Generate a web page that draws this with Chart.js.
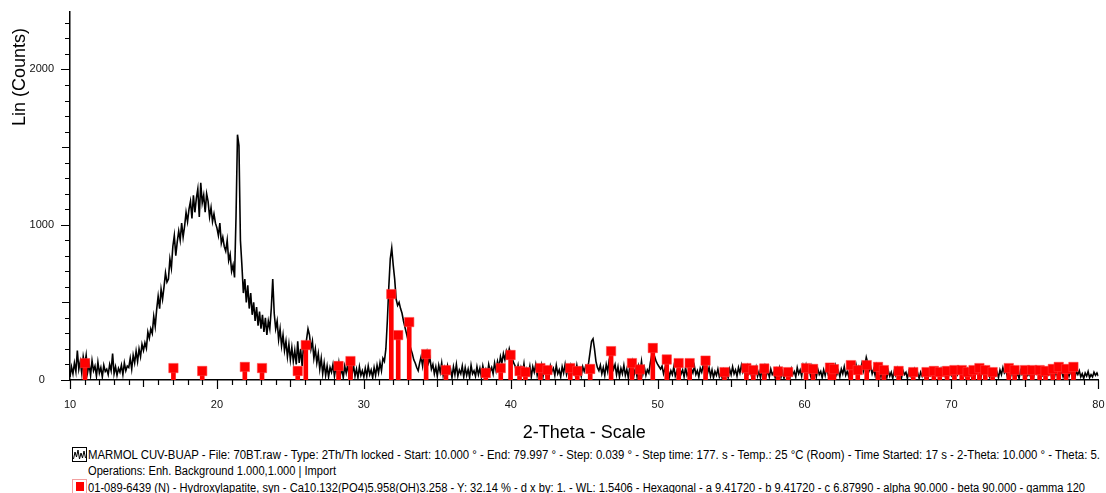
<!DOCTYPE html>
<html>
<head>
<meta charset="utf-8">
<script src="https://cdn.jsdelivr.net/npm/chart.js@4.4.1/dist/chart.umd.min.js"></script>
<style>
  html, body { margin: 0; padding: 0; background: #fff; }
  #wrap { position: relative; width: 1106px; height: 493px; overflow: hidden;
          font-family: "Liberation Sans", Arial, sans-serif; color: #000; }
  #xrd { position: absolute; left: 0; top: 0; }
  .leg { position: absolute; left: 88px; white-space: nowrap; font-size: 12px;
         line-height: 14px; transform-origin: 0 50%; }
  .icon { position: absolute; left: 72px; width: 15px; height: 15px; box-sizing: border-box; }
</style>
</head>
<body>
<div id="wrap">
  <canvas id="xrd" width="1106" height="447"></canvas>

  <div class="icon" style="top:447px;border:1px solid #000;">
    <svg width="13" height="13" viewBox="0 0 13 13" style="position:absolute;left:0;top:0">
      <polyline points="0.5,11 2,4 3.5,9 5,2 6.5,11 8,5 9.5,10 11,3 12.5,10" fill="none" stroke="#000" stroke-width="1"/>
    </svg>
  </div>
  <div class="leg" id="leg1" style="top:448px">MARMOL CUV-BUAP - File: 70BT.raw - Type: 2Th/Th locked - Start: 10.000 ° - End: 79.997 ° - Step: 0.039 ° - Step time: 177. s - Temp.: 25 °C (Room) - Time Started: 17 s - 2-Theta: 10.000 ° - Theta: 5.</div>
  <div class="leg" id="leg2" style="top:464px">Operations: Enh. Background 1.000,1.000 | Import</div>
  <div class="icon" style="top:479px;border:1px solid #f2a0a0;">
    <div style="position:absolute;left:3px;top:2px;width:8px;height:9px;background:#ff0000"></div>
  </div>
  <div class="leg" id="leg3" style="top:481px">01-089-6439 (N) - Hydroxylapatite, syn - Ca10.132(PO4)5.958(OH)3.258 - Y: 32.14 % - d x by: 1. - WL: 1.5406 - Hexagonal - a 9.41720 - b 9.41720 - c 6.87990 - alpha 90.000 - beta 90.000 - gamma 120</div>
</div>

<script>
// Scan settings (2-Theta, degrees)
const SCAN_START = 10.0;
const SCAN_STEP = 0.1;

// Measured intensity, one row per degree (x.0 ... x.9)
const counts = [
  20, 85, 40, 110, 55, 190, 70, 120, 45, 150,          // 10
  95, 160, 50, 105, 30, 125, 60, 90, 25, 115,          // 11
  45, 80, 20, 95, 55, 70, 35, 100, 60, 170,            // 12
  40, 85, 30, 75, 50, 95, 35, 110, 60, 90,             // 13
  80, 140, 70, 160, 110, 185, 120, 200, 150, 230,      // 14
  190, 240, 205, 310, 270, 330, 300, 410, 345, 455,    // 15
  540, 460, 585, 520, 600, 690, 630, 650, 780, 720,    // 16
  860, 930, 800, 890, 960, 900, 1010, 920, 990, 1080,  // 17
  1020, 1100, 1150, 1040, 1190, 1080, 1170, 1230, 1050, 1270, // 18
  1140, 1190, 1080, 1200, 1150, 1050, 1110, 1020, 1070, 1010, // 19
  980, 930, 1010, 880, 920, 860, 830, 900, 770, 810,   // 20
  700, 740, 660, 1050, 1580, 1510, 900, 740, 560, 650, // 21
  500, 610, 460, 560, 420, 500, 380, 470, 350, 440,    // 22
  330, 420, 310, 400, 290, 380, 330, 460, 650, 430,    // 23
  330, 380, 260, 330, 220, 290, 190, 250, 150, 230,    // 24
  130, 210, 120, 190, 100, 250, 110, 200, 90, 230,     // 25
  150, 260, 330, 290, 200, 250, 140, 200, 110, 170,    // 26
  70, 140, 40, 110, 30, 90, 20, 80, 50, 100,           // 27
  25, 85, 40, 110, 30, 75, 15, 90, 45, 100,            // 28
  20, 80, 35, 95, 25, 70, 15, 85, 30, 60,              // 29
  20, 75, 25, 90, 35, 65, 15, 80, 30, 95,              // 30
  45, 110, 60, 140, 120, 200, 380, 600, 780, 850,      // 31
  740, 650, 520, 480, 500, 460, 430, 380, 340, 300,    // 32
  260, 230, 200, 170, 130, 110, 80, 60, 110, 150,      // 33
  90, 165, 120, 175, 110, 140, 70, 100, 40, 85,        // 34
  25, 95, 50, 110, 30, 75, 20, 90, 45, 70,             // 35
  15, 85, 35, 100, 25, 65, 40, 90, 20, 80,             // 36
  30, 70, 15, 95, 40, 60, 25, 85, 35, 75,              // 37
  20, 90, 45, 70, 30, 100, 55, 80, 40, 110,            // 38
  60, 120, 80, 150, 110, 170, 130, 185, 150, 200,      // 39
  160, 140, 110, 90, 50, 95, 30, 80, 45, 105,          // 40
  25, 70, 40, 90, 20, 85, 50, 100, 30, 75,             // 41
  45, 95, 25, 80, 35, 70, 20, 90, 55, 75,              // 42
  30, 95, 40, 65, 20, 85, 45, 100, 35, 70,             // 43
  25, 90, 50, 80, 30, 95, 40, 70, 25, 85,              // 44
  55, 90, 70, 110, 180, 250, 265, 200, 120, 80,        // 45
  60, 95, 40, 80, 30, 100, 55, 130, 170, 110,          // 46
  70, 100, 35, 85, 20, 75, 40, 95, 30, 70,             // 47
  15, 85, 45, 110, 35, 75, 20, 90, 50, 120,            // 48
  40, 80, 30, 65, 45, 110, 160, 175, 150, 120,         // 49
  100, 85, 70, 90, 40, 75, 30, 70, 20, 60,             // 50
  35, 85, 25, 55, 15, 75, 40, 65, 20, 80,              // 51
  30, 50, 15, 70, 45, 90, 35, 60, 20, 75,              // 52
  50, 95, 60, 100, 45, 80, 25, 65, 15, 55,             // 53
  30, 70, 20, 45, 10, 60, 25, 50, 15, 70,              // 54
  35, 85, 40, 65, 25, 80, 45, 95, 50, 75,              // 55
  30, 85, 40, 60, 20, 70, 35, 80, 25, 55,              // 56
  15, 65, 40, 85, 30, 60, 20, 70, 35, 50,              // 57
  15, 65, 30, 75, 20, 55, 10, 60, 30, 45,              // 58
  15, 70, 35, 55, 20, 80, 40, 65, 25, 90,              // 59
  50, 95, 45, 75, 30, 85, 40, 60, 20, 70,              // 60
  35, 55, 15, 65, 30, 80, 40, 60, 25, 75,              // 61
  45, 90, 35, 60, 20, 70, 40, 85, 30, 55,              // 62
  25, 75, 45, 95, 55, 100, 50, 85, 60, 105,            // 63
  55, 90, 146, 110, 60, 85, 40, 70, 30, 90,            // 64
  45, 65, 20, 75, 35, 55, 15, 60, 25, 50,              // 65
  10, 55, 30, 70, 20, 45, 15, 60, 35, 50,              // 66
  10, 55, 25, 40, 15, 65, 30, 45, 10, 50,              // 67
  25, 60, 20, 40, 10, 55, 30, 45, 15, 60,              // 68
  35, 50, 20, 70, 40, 55, 15, 45, 25, 65,              // 69
  30, 50, 10, 55, 35, 75, 40, 60, 20, 50,              // 70
  15, 65, 30, 45, 10, 55, 25, 70, 35, 50,              // 71
  15, 60, 30, 75, 40, 55, 20, 45, 10, 60,              // 72
  30, 50, 15, 65, 35, 80, 45, 60, 25, 50,              // 73
  15, 55, 30, 70, 20, 45, 10, 60, 35, 50,              // 74
  20, 65, 30, 45, 15, 55, 25, 70, 40, 55,              // 75
  20, 60, 30, 45, 10, 55, 35, 65, 25, 50,              // 76
  15, 60, 30, 75, 40, 55, 20, 45, 10, 50,              // 77
  25, 60, 30, 45, 15, 55, 35, 60, 20, 40,              // 78
  10, 45, 25, 55, 15, 35, 20, 50, 30, 45,              // 79
  25                                                   // 80
];

// Reference pattern 01-089-6439 (Hydroxylapatite): line positions and intensities
const stickAngles = [
  11.02, 17.04, 19.00, 21.90, 23.07, 25.50, 26.05, 28.28, 29.09, 31.87,
  32.34, 33.09, 34.24, 35.59, 38.30, 39.32, 39.99, 40.60, 41.00, 42.02,
  42.50, 44.05, 44.53, 45.41, 46.83, 48.25, 48.79, 49.67, 50.62, 51.43,
  52.18, 53.26, 54.55, 56.04, 56.51, 57.26, 58.20, 58.88, 60.10, 60.58,
  61.73, 62.00, 63.15, 63.62, 64.23, 65.00, 65.40, 66.40, 67.40, 68.30,
  68.80, 69.20, 69.70, 70.20, 70.70, 71.10, 71.50, 71.90, 72.30, 72.80,
  73.90, 74.30, 75.00, 75.50, 76.00, 76.40, 76.90, 77.30, 77.80, 78.30
];
const stickCounts = [
  109, 77, 58, 84, 77, 58, 225, 90, 122, 553,
  289, 373, 167, 64, 45, 77, 161, 58, 51, 77,
  64, 77, 58, 71, 186, 109, 68, 206, 132, 109,
  109, 125, 51, 77, 64, 74, 55, 51, 77, 71,
  80, 70, 96, 64, 96, 84, 64, 58, 51, 51,
  58, 51, 58, 64, 64, 51, 64, 77, 64, 51,
  77, 64, 64, 64, 64, 58, 71, 84, 71, 84
];

// Axis ranges and labelled ticks
const X_MIN = 10, X_MAX = 80, X_LABEL_STEP = 10;
const Y_MIN = 0, Y_MAX = 2370, Y_MINOR_TOP = 2300;
const yTickLabels = [0, 1000, 2000];

const FONT = '"Liberation Sans", Arial, sans-serif';

const scanPoints = counts.map((c, i) => ({ x: +(SCAN_START + i * SCAN_STEP).toFixed(2), y: c }));
const stickPoints = stickAngles.map((a, i) => ({ x: a, y: stickCounts[i] }));

// Minor/major tick marks plus the rotated y-axis title
const axisDecor = {
  id: 'axisDecor',
  afterDraw(chart) {
    const { ctx, chartArea: ca, scales: { x, y } } = chart;
    ctx.save();
    ctx.strokeStyle = '#000';
    ctx.lineWidth = 1.2;
    ctx.beginPath();
    for (let v = X_MIN; v <= X_MAX; v += 1) {
      const px = Math.round(x.getPixelForValue(v)) + 0.5;
      const len = v % 10 === 0 ? 9 : (v % 5 === 0 ? 7 : 5);
      ctx.moveTo(px, ca.bottom);
      ctx.lineTo(px, ca.bottom + len);
    }
    for (let v = Y_MIN; v <= Y_MINOR_TOP; v += 100) {
      const py = Math.round(y.getPixelForValue(v)) + 0.5;
      const len = v % 1000 === 0 ? 9 : (v % 500 === 0 ? 8 : 5);
      ctx.moveTo(ca.left - len, py);
      ctx.lineTo(ca.left, py);
    }
    ctx.stroke();

    ctx.fillStyle = '#000';
    ctx.font = '18px ' + FONT;
    ctx.textAlign = 'left';
    ctx.textBaseline = 'middle';
    ctx.translate(20, 126);
    ctx.rotate(-Math.PI / 2);
    ctx.fillText('Lin (Counts)', 0, 0);
    ctx.restore();
  }
};

new Chart(document.getElementById('xrd'), {
  type: 'line',
  data: {
    datasets: [
      {
        type: 'line',
        label: 'MARMOL CUV-BUAP',
        data: scanPoints,
        borderColor: '#000',
        borderWidth: 1.6,
        pointRadius: 0,
        tension: 0,
        order: 3
      },
      {
        type: 'bar',
        label: '01-089-6439 (N) - Hydroxylapatite',
        data: stickPoints,
        backgroundColor: '#ff0000',
        borderWidth: 0,
        barThickness: 4,
        order: 2
      },
      {
        type: 'line',
        label: '01-089-6439 markers',
        data: stickPoints,
        showLine: false,
        pointStyle: 'rect',
        pointRadius: 6.6,
        pointBackgroundColor: '#ff0000',
        pointBorderColor: 'rgba(255,60,60,0.55)',
        pointBorderWidth: 1,
        order: 1
      }
    ]
  },
  options: {
    responsive: false,
    animation: false,
    devicePixelRatio: 1,
    layout: { padding: { top: 12, left: 0, right: 2, bottom: 0 } },
    plugins: { legend: { display: false }, tooltip: { enabled: false } },
    scales: {
      x: {
        type: 'linear',
        min: X_MIN, max: X_MAX,
        offset: false,
        grid: { display: false, drawTicks: false },
        border: { display: true, color: '#000', width: 1.5 },
        ticks: {
          stepSize: X_LABEL_STEP,
          padding: 18,
          color: '#111',
          font: { family: FONT, size: 11 },
          maxRotation: 0,
          callback: v => String(v)
        },
        title: {
          display: true,
          text: '2-Theta - Scale',
          color: '#000',
          font: { family: FONT, size: 18 },
          padding: { top: 0, bottom: 3 }
        },
        afterFit(scale) {
          scale.height = 67;
          scale.paddingLeft = 0;
          scale.paddingRight = 0;
        }
      },
      y: {
        type: 'linear',
        min: Y_MIN, max: Y_MAX,
        grid: { display: false, drawTicks: false },
        border: { display: true, color: '#000', width: 1.5 },
        afterBuildTicks(scale) {
          scale.ticks = yTickLabels.map(v => ({ value: v }));
        },
        ticks: {
          crossAlign: 'center',
          padding: 16,
          color: '#111',
          font: { family: FONT, size: 11 },
          callback: v => String(v)
        },
        afterFit(scale) {
          scale.width = 70;
          scale.paddingTop = 0;
          scale.paddingBottom = 0;
        }
      }
    }
  },
  plugins: [axisDecor]
});

// Squeeze each legend line to the width it occupies in the report layout
const legendWidths = { leg1: 1012, leg2: 248, leg3: 997 };
Object.keys(legendWidths).forEach(id => {
  const el = document.getElementById(id);
  const w = el.getBoundingClientRect().width;
  if (w > 0) el.style.transform = 'scaleX(' + (legendWidths[id] / w).toFixed(4) + ')';
});
</script>
</body>
</html>
